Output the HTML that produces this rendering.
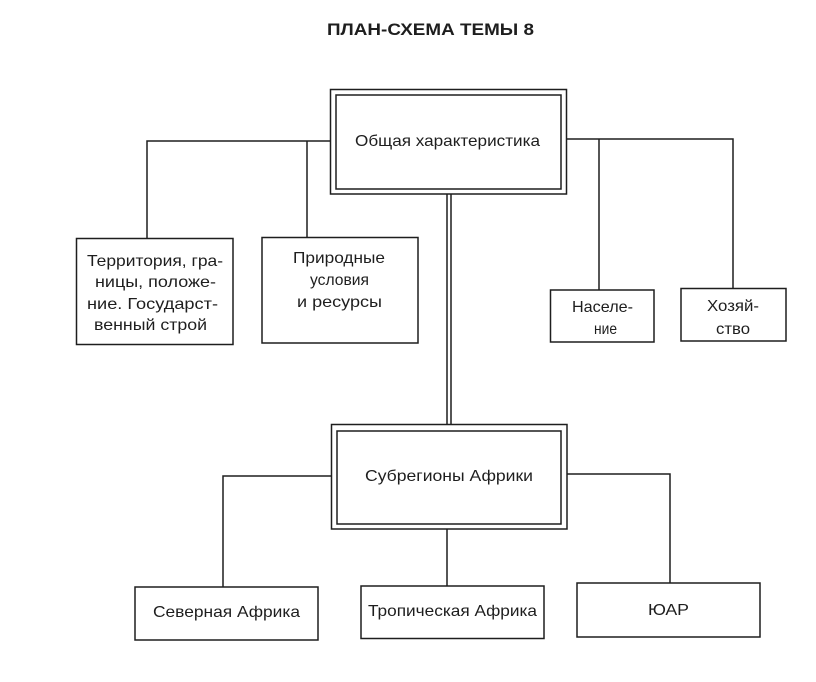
<!DOCTYPE html>
<html>
<head>
<meta charset="utf-8">
<style>
  html, body { margin: 0; padding: 0; background: #ffffff; }
  svg { display: block; }
  text { font-family: "Liberation Sans", "DejaVu Sans", sans-serif; fill: #1e1e1e; }
  .t { font-size: 16px; }
  .title { font-size: 16.5px; font-weight: bold; }
</style>
</head>
<body>
<svg width="816" height="682" viewBox="0 0 816 682" xmlns="http://www.w3.org/2000/svg">
  <rect x="0" y="0" width="816" height="682" fill="#ffffff"/>

  <!-- Title -->
  <text class="title" x="327" y="35" textLength="207" lengthAdjust="spacingAndGlyphs">ПЛАН-СХЕМА  ТЕМЫ 8</text>

  <g fill="none" stroke="#1e1e1e" stroke-width="1.5">
    <!-- Top double box -->
    <rect x="330.5" y="89.5" width="236" height="104.5"/>
    <rect x="336" y="95" width="225" height="94"/>

    <!-- Left connectors -->
    <polyline points="330.5,141 147,141 147,238.5"/>
    <line x1="307" y1="141" x2="307" y2="237.5"/>

    <!-- Right connectors -->
    <polyline points="566.5,139 733,139 733,288.5"/>
    <line x1="599" y1="139" x2="599" y2="290"/>

    <!-- Double vertical -->
    <line x1="447" y1="194" x2="447" y2="424.5"/>
    <line x1="451" y1="194" x2="451" y2="424.5"/>

    <!-- Second-level boxes -->
    <rect x="76.5" y="238.5" width="156.5" height="106"/>
    <rect x="262" y="237.5" width="156" height="105.5"/>
    <rect x="550.5" y="290" width="103.5" height="52"/>
    <rect x="681" y="288.5" width="105" height="52.5"/>

    <!-- Subregions double box -->
    <rect x="331.5" y="424.5" width="235.5" height="104.5"/>
    <rect x="337" y="431" width="224" height="93"/>

    <!-- Subregion connectors -->
    <polyline points="331.5,476 223,476 223,587"/>
    <line x1="447" y1="529" x2="447" y2="586"/>
    <polyline points="567,474 670,474 670,583"/>

    <!-- Bottom boxes -->
    <rect x="135" y="587" width="183" height="53"/>
    <rect x="361" y="586" width="183" height="52.5"/>
    <rect x="577" y="583" width="183" height="54"/>
  </g>

  <!-- Labels -->
  <text class="t" x="355" y="146" textLength="185" lengthAdjust="spacingAndGlyphs">Общая  характеристика</text>

  <text class="t" x="87" y="266" textLength="136" lengthAdjust="spacingAndGlyphs">Территория, гра-</text>
  <text class="t" x="95" y="287" textLength="121" lengthAdjust="spacingAndGlyphs">ницы, положе-</text>
  <text class="t" x="87" y="309" textLength="131" lengthAdjust="spacingAndGlyphs">ние. Государст-</text>
  <text class="t" x="94" y="330" textLength="113" lengthAdjust="spacingAndGlyphs">венный строй</text>

  <text class="t" x="293" y="263" textLength="92" lengthAdjust="spacingAndGlyphs">Природные</text>
  <text class="t" x="310" y="285" textLength="59" lengthAdjust="spacingAndGlyphs">условия</text>
  <text class="t" x="297" y="307" textLength="85" lengthAdjust="spacingAndGlyphs">и  ресурсы</text>

  <text class="t" x="572" y="312" textLength="61" lengthAdjust="spacingAndGlyphs">Населе-</text>
  <text class="t" x="594" y="334" textLength="23" lengthAdjust="spacingAndGlyphs">ние</text>

  <text class="t" x="707" y="311" textLength="52" lengthAdjust="spacingAndGlyphs">Хозяй-</text>
  <text class="t" x="716" y="334" textLength="34" lengthAdjust="spacingAndGlyphs">ство</text>

  <text class="t" x="365" y="481" textLength="168" lengthAdjust="spacingAndGlyphs">Субрегионы  Африки</text>

  <text class="t" x="153" y="617" textLength="147" lengthAdjust="spacingAndGlyphs">Северная  Африка</text>
  <text class="t" x="368" y="616" textLength="169" lengthAdjust="spacingAndGlyphs">Тропическая  Африка</text>
  <text class="t" x="648" y="615" textLength="41" lengthAdjust="spacingAndGlyphs">ЮАР</text>
</svg>
</body>
</html>
